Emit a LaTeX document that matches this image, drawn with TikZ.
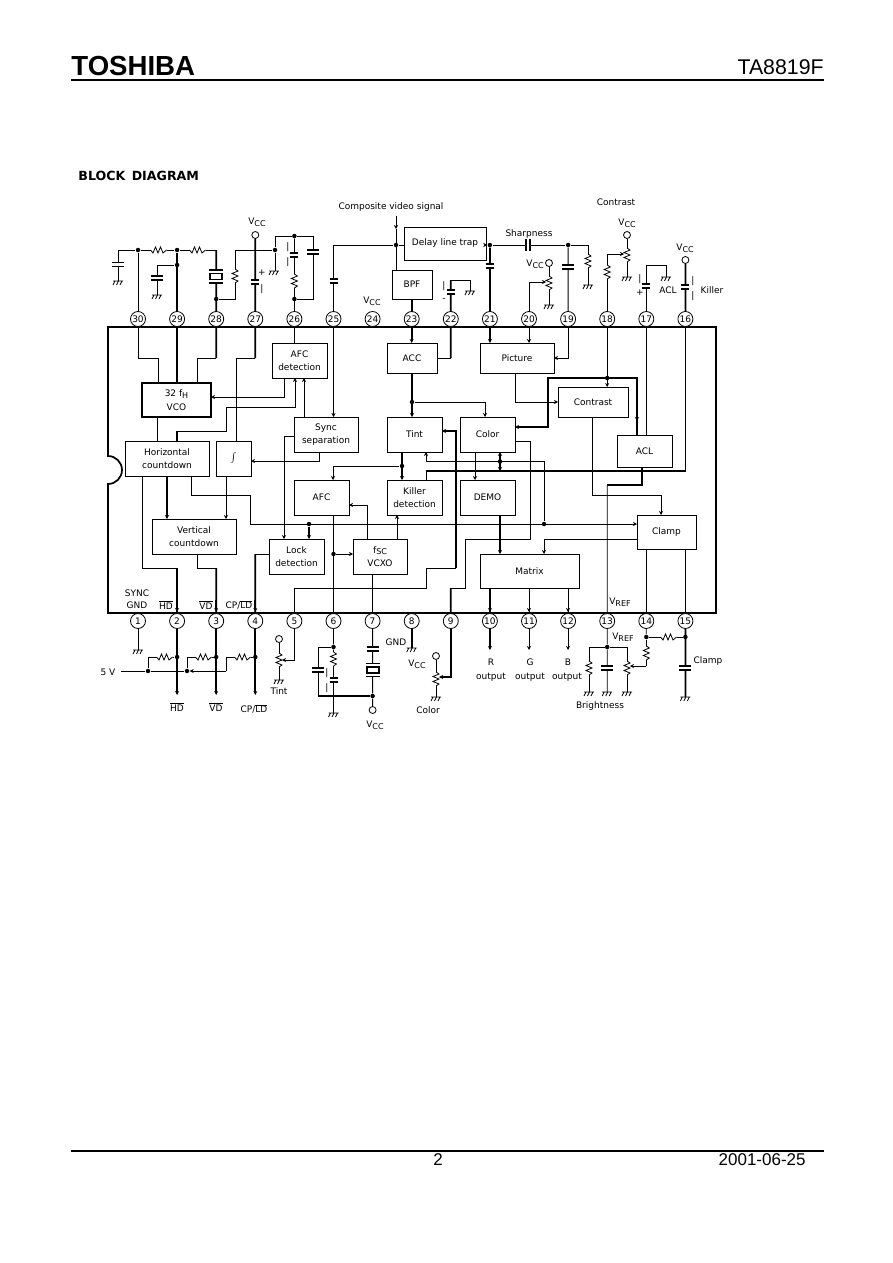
\documentclass[tikz,border=0pt]{standalone}
\usepackage{fontspec}
\setmainfont{DejaVu Sans}
\newfontfamily\headfont{Liberation Sans}
\usetikzlibrary{arrows.meta,positioning,calc}
\newcommand{\lowtxt}[1]{\raisebox{-.35ex}{\footnotesize #1}}
\newcommand{\ovtxt}[1]{\ensuremath{\overline{\mbox{#1}}}}
\tikzset{
  block/.style 2 args={draw,line width=.9pt,align=center,inner sep=0pt,outer sep=0pt,minimum width=#1,minimum height=#2,execute at begin node={\setlength{\baselineskip}{13.5pt}}},
  pinnode/.style={draw,circle,fill=white,inner sep=0pt,minimum size=15pt,outer sep=0pt},
  jdot/.style={circle,fill=black,inner sep=0pt,minimum size=4.5pt},
  term/.style={draw,circle,fill=white,inner sep=0pt,minimum size=7pt},
  bus/.style={line width=1.8pt},
  gnd/.pic={\draw (-5,0)--(5,0) (-5,4)--(-3,0) (-1.5,4)--(.5,0) (2,4)--(4,0);},
  capv/.pic={\fill[white] (-6,-2) rectangle (6,2); \draw[line width=1.7pt] (-6,-2)--(6,-2) (-6,2)--(6,2);},
  caph/.pic={\fill[white] (-2,-6) rectangle (2,6); \draw[line width=2pt] (-2,-6)--(-2,6) (2,-6)--(2,6);},
  ecap/.pic={\fill[white] (-4,-3) rectangle (4,3); \draw[line width=2pt] (-4,-2)--(4,-2) (-4,2)--(4,2);},
  xtal/.pic={\fill[white] (-7,-7) rectangle (7,7); \draw[line width=1.8pt] (-7,-6.5)--(7,-6.5) (-7,6.5)--(7,6.5) (-6,-3) rectangle (6,3);},
  resv/.pic={\fill[white] (-3,-7) rectangle (3,7); \draw (0,-7)--(3,-5)--(-3,-2.5)--(3,0)--(-3,2.5)--(3,5)--(0,7);},
  resh/.pic={\fill[white] (-8,-3) rectangle (8,3); \draw (-8,0)--(-5.5,3)--(-3,-3)--(-.5,3)--(2,-3)--(4.5,3)--(8,0);},
}
\begin{document}
\begin{tikzpicture}[x=1pt,y=-1pt,>={Stealth[length=4pt,width=4pt]},line width=.8pt,font=\small]
\useasboundingbox (0,0) rectangle (892,1263);
% Page header and footer.
\node[anchor=west,inner sep=0pt,font=\headfont\bfseries\fontsize{27.6}{28}\selectfont] (maker) at (71,66) {TOSHIBA};
\node[anchor=east,inner sep=0pt,font=\headfont\fontsize{21.3}{22}\selectfont] (partno) at (824,67) {TA8819F};
\draw[line width=1.3pt] (71,80) -- (824,80);
\node[anchor=west,inner sep=0pt,font=\bfseries\fontsize{12.6}{13}\selectfont] (heading) at (78,176) {BLOCK\, DIAGRAM};
\draw[line width=1.3pt] (71,1151) -- (824,1151);
\node[inner sep=0pt,font=\headfont\fontsize{17}{18}\selectfont] (pageno) at (438,1160) {2};
\node[anchor=east,inner sep=0pt,font=\headfont\fontsize{17}{18}\selectfont] (pagedate) at (806,1160) {2001-06-25};
% Package outline with the notch.
\draw[line width=1.7pt] (108,327) -- (716,327) -- (716,613) -- (108,613) -- (108,484) arc[start angle=90,end angle=-90,radius=14] -- cycle;
\foreach \n [count=\i from 0] in {30,29,...,16}
  \node[pinnode] (pin\n) at ({138+39.1*\i},319) {\n};
\foreach \n in {1,...,15}
  \node[pinnode] (pin\n) at ({138+39.1*(\n-1)},621) {\n};
% Blocks.
\node[block={55}{35}] (afcd) at (299.5,360.5) {AFC\\detection};
\node[block={69}{34},line width=1.4pt] (vco) at (176.5,400) {32 f\lowtxt{H}\\VCO};
\node[block={84}{35}] (hcd) at (167,458.5) {Horizontal\\countdown};
\node[block={35}{35},line width=1pt] (ints) at (233.5,458.5) {$\int$};
\node[block={64}{35}] (sync) at (326,434.5) {Sync\\separation};
\node[block={50}{30}] (acc) at (412,358) {ACC};
\node[block={74}{30}] (pict) at (517,358) {Picture};
\node[block={70}{30}] (contrast) at (593,402) {Contrast};
\node[block={55}{35}] (tint) at (414.5,434.5) {Tint};
\node[block={55}{35}] (color) at (487.5,434.5) {Color};
\node[block={55}{32}] (acl) at (644.5,451) {ACL};
\node[block={55}{35}] (afc) at (321.5,497.5) {AFC};
\node[block={55}{35}] (killer) at (414.5,497.5) {Killer\\detection};
\node[block={55}{35}] (demo) at (487.5,497.5) {DEMO};
\node[block={84}{35}] (vcd) at (194,536.5) {Vertical\\countdown};
\node[block={55}{35}] (lock) at (296.5,556.5) {Lock\\detection};
\node[block={54}{35}] (vcxo) at (380,556.5) {f\lowtxt{SC}\\VCXO};
\node[block={99}{34}] (matrix) at (529.5,571) {Matrix};
\node[block={59}{34}] (clamp) at (666.5,532) {Clamp};
\node[block={82}{33}] (delay) at (445,243.5) {Delay line trap};
\node[block={40}{29}] (bpf) at (412,284.5) {BPF};
% Junctions.
\node[jdot] (d30) at (138,250) {};
\node[jdot] (d29) at (177.1,250) {};
\node[jdot] (d29b) at (177.1,265) {};
\node[jdot] (d28) at (216.2,299) {};
\node[jdot] (d27) at (275,250) {};
\node[jdot] (d26a) at (294.4,236) {};
\node[jdot] (d26b) at (294.4,299) {};
\node[jdot] (d25) at (396,245) {};
\node[jdot] (d21) at (489.9,245) {};
\node[jdot] (d19) at (568.1,245) {};
\node[jdot] (d18) at (607.2,378) {};
\node[jdot] (dacc) at (412,402) {};
\node[jdot] (dtint) at (402,466) {};
\node[jdot] (dcolor) at (500,461.5) {};
\node[jdot] (dlock) at (309,524) {};
\node[jdot] (dtail) at (544,524) {};
\node[jdot] (dvcxo) at (333.5,554) {};
\node[jdot] (d5a) at (148,671) {};
\node[jdot] (d5b) at (187,671) {};
\node[jdot] (d2) at (177.1,657) {};
\node[jdot] (d3) at (216.2,657) {};
\node[jdot] (d4) at (255.3,657) {};
\node[jdot] (d6) at (333.5,647) {};
\node[jdot] (d7) at (372.6,696) {};
\node[jdot] (d13) at (607.2,647) {};
\node[jdot] (d14) at (646.3,637) {};
\node[jdot] (d15) at (685.4,637) {};
% Supply terminals.
\node[term] (vcc27) at (255.3,235) {};
\node[term] (vcc20) at (549,263) {};
\node[term] (vcc18) at (627,235) {};
\node[term] (vcc16) at (685.4,260) {};
\node[term] (vcc5) at (279,639) {};
\node[term] (vcc7) at (372.6,710) {};
\node[term] (vcc9) at (436,656) {};
% Wiring inside the package.
\draw (pin30) |- (158,358) -- (vco.north -| 158,0);
\draw[bus] (pin29) -- (vco.north -| pin29);
\draw[bus] (pin28) -- (216.2,358);
\draw (216.2,358) -| (vco.north -| 197,0);
\draw[bus] (pin27) -- (255.3,358);
\draw (255.3,358) -| (ints.north -| 236,0);
\draw (pin26) -- (afcd.north -| pin26);
\draw[->] (pin25) -- (sync.north -| pin25);
\draw[bus,->] (pin23) -- (acc.north -| pin23);
\draw[bus] (pin22) -- (450.8,358);
\draw (450.8,358) -- (acc.east);
\draw[bus,->] (pin21) -- (pict.north -| pin21);
\draw[->] (pin20) -- (pict.north -| pin20);
\draw[->] (pin19) |- (pict.east);
\draw[->] (pin18) -- (contrast.north -| pin18);
\draw (pin17) -- (acl.north -| pin17);
\draw[bus] (pin16) |- (426,471);
\draw[->] (afcd.south -| 284,0) |- (vco.east |- 0,397);
\draw[<-] (afcd.south -| 295,0) |- (226,407) |- (177,431);
\draw[bus] (177,431) -- (hcd.north -| 177,0);
\draw[->] (sync.north -| 304,0) -- (afcd.south -| 304,0);
\draw (vco.south -| 157,0) -- (hcd.north -| 157,0);
\draw[->] (sync.west |- 0,436) -| (lock.north -| 284,0);
\draw[->] (sync.south -| 319,0) |- (ints.east |- 0,461);
\draw[bus,->] (hcd.south -| 167,0) -- (vcd.north -| 167,0);
\draw (hcd.south -| 142,0) |- (177.1,568);
\draw[bus] (177.1,568) -- (pin2);
\draw[->] (hcd.south -| 191,0) |- (250,495) |- (clamp.west |- 0,524);
\draw[->] (ints.south -| 226,0) -- (vcd.north -| 226,0);
\draw (vcd.south -| 197,0) |- (216.2,568);
\draw[bus] (216.2,568) -- (pin3);
\draw (lock.west |- 0,554) -- (255.3,554);
\draw[bus] (255.3,554) -- (pin4);
\draw[bus,->] (dlock) -- (lock.north -| dlock);
\draw (afc.south -| pin6) -- (pin6);
\draw[->] (dvcxo) -- (vcxo.west |- dvcxo);
\draw[<-] (afc.east |- 0,505) -| (vcxo.north -| 367,0);
\draw[->] (vcxo.north -| 397,0) -- (killer.south -| 397,0);
\draw (vcxo.south -| pin7) -- (pin7);
\draw[bus,->] (acc.south) -- (tint.north -| acc.south);
\draw[->] (dacc) -| (color.north -| 485,0);
\draw[bus,->] (tint.south -| 402,0) -- (killer.north -| 402,0);
\draw[->] (dtint) -| (afc.north -| 333,0);
\draw[bus,<-] (tint.east |- 0,431) -| (456,568);
\draw (456,568) -| (426,588) -| (pin5);
\draw[<-] (tint.south -| 426,0) |- (544,461.5) -- (dtail);
\draw (426,471) -- (killer.north -| 426,0);
\draw[bus,<->] (color.south -| 500,0) -- (500,471);
\draw[->] (color.south -| 475,0) -- (demo.north -| 475,0);
\draw (color.east |- 0,441) -| (530,539) -| (465.5,588) -- (450.8,588);
\draw[bus] (450.8,588) -- (pin9);
\draw[bus,->] (demo.south -| 500,0) -- (matrix.north -| 500,0);
\draw[bus,<-] (color.east |- 0,427) -- (548,427) |- (637,378) -- (acl.north -| 637,0);
\draw[bus,->] (637,400) -- (637,421);
\draw[->] (pict.south -| 515,0) |- (contrast.west);
\draw[->] (contrast.south -| 592,0) |- (661,495) -- (clamp.north -| 661,0);
\draw[bus] (acl.south -| 642,0) |- (607.2,485);
\draw (607.2,485) -- (pin13);
\draw[->] (clamp.west |- 0,539) -| (matrix.north -| 544,0);
\draw (clamp.south -| pin14) -- (pin14);
\draw[bus] (clamp.south -| pin15) -- (pin15);
\draw[bus] (matrix.south -| pin10) -- (pin10);
\draw (matrix.south -| pin11) -- (pin11);
\draw (matrix.south -| pin12) -- (pin12);
\foreach \n in {2,3,4,10}
  \draw[bus,->] (pin\n |- 0,600) -- (pin\n |- 0,612);
\foreach \n in {11,12}
  \draw[->] (pin\n |- 0,600) -- (pin\n |- 0,612);
% Parts above the package.
\draw (118,281) -- (118,250) -- (d30) -- (d29) -- (216.2,250);
\draw (pin30) -- (d30);
\draw[bus] (pin29) -- (d29);
\draw (d29b) -| (157,295);
\draw[bus] (pin28) -- (216.2,250);
\draw (d28) -| (235,250) -- (d27);
\draw (d27) |- (d26a) -| (313,299) -- (d26b);
\draw (d27) -- (275,271);
\draw (pin26) -- (d26a);
\draw[bus] (pin27) -- (vcc27);
\draw (pin25) |- (d25);
\draw (d25) -- (delay.west |- d25);
\draw[->] (396,216) -- (396,229);
\draw (396,229) -- (bpf.north -| 396,0);
\draw[bus] (pin23) -- (bpf.south -| pin23);
\draw[bus] (pin22) -- (450.8,280);
\draw (450.8,280) -| (470,291);
\draw[bus] (pin21) -- (d21);
\draw[->] (delay.east |- d21) -- (d21);
\draw (d21) -- (d19) -| (588,285);
\draw (pin19) -- (d19);
\draw[->] (pin20) |- (546,282);
\draw (vcc20) -- (549,305);
\draw[->] (pin18) |- (624,254);
\draw (vcc18) -- (627,277);
\draw (pin17) |- (666,265) -- (666,277);
\draw[bus] (pin16) -- (vcc16);
% Parts below the package.
\draw (pin1) -- (pin1 |- 0,650);
\foreach \n in {2,3,4}
  \draw[bus,->] (pin\n) -- (pin\n |- 0,695);
\draw[<-] (121,671) -- (d5a) -- (d5b) -- (226,671);
\draw (d5a) |- (d2);
\draw (d5b) |- (d3);
\draw (226,671) |- (d4);
\draw[->] (pin5) |- (282,660);
\draw (vcc5) -- (279,680);
\draw (pin6) -- (d6) -- (333.5,713);
\draw (d6) -| (318,696);
\draw[line width=1.2pt] (318,696) -- (d7);
\draw (pin7) -- (d7) -- (vcc7);
\draw[bus] (pin8) -- (pin8 |- 0,648);
\draw[bus,->] (pin9) |- (439,677);
\draw (vcc9) -- (436,697);
\draw[bus,->] (pin10) -- (pin10 |- 0,650);
\draw[->] (pin11) -- (pin11 |- 0,650);
\draw[->] (pin12) -- (pin12 |- 0,650);
\draw (pin13) -- (d13) -- (607.2,692);
\draw (d13) -| (589,692);
\draw (d13) -| (627,692);
\draw (pin14) -- (d14);
\draw[->] (646.3,666) -- (630,666);
\draw (d14) -- (646.3,666);
\draw (d14) -- (d15);
\draw[bus] (pin15) -- (685.4,697);
% Components sit on top of the wires.
\foreach \x/\y in {118/281,157/295,274/271,470/291,549/305,588/285,627/277,666/277,138/650,279/680,333.5/713,411.7/648,436/697,589/692,607.2/692,627/692,685.4/697}
  \pic at (\x,\y) {gnd};
\foreach \x/\y in {118/264.5,157/278,313/252,568.1/267,318/670,372.6/649,607.2/668,685.4/668}
  \pic at (\x,\y) {capv};
\foreach \x/\y in {255.3/282,294.4/255,333.5/281,450.8/292,489.9/266,646.3/286,685.4/287,333.5/680}
  \pic at (\x,\y) {ecap};
\pic at (527.5,245) {caph};
\foreach \x/\y in {216.2/276.5,372.6/670}
  \pic at (\x,\y) {xtal};
\foreach \x/\y in {235/276,294.4/281,549/283,588/261,607.2/272,627/255,279/660,333.5/659,436/679,589/668,627/668,646.3/653}
  \pic at (\x,\y) {resv};
\foreach \x/\y in {158.5/250,197.5/250,164.5/657,203.5/657,242.5/657,668.5/637}
  \pic at (\x,\y) {resh};
% Polarity marks.
\foreach \x/\y/\s [count=\k] in {262/273/+,262/289/|,288/247/|,288/262/|,444/286/|,444/300/-,640/279/|,640/293/+,693/281/|,693/296/|,327/673/|,327/688/|}
  \node[inner sep=0pt] (pol\k) at (\x,\y) {\s};
% Labels.
\node (labcomp) at (391,207) {Composite video signal};
\node (labsharp) at (529,234) {Sharpness};
\node (labcontr) at (616,202) {Contrast};
\node (labv27) at (257,222) {V\lowtxt{CC}};
\node (labv24) at (372,301) {V\lowtxt{CC}};
\node (labv20) at (535,264) {V\lowtxt{CC}};
\node (labv18) at (627,223) {V\lowtxt{CC}};
\node (labv16) at (685,248) {V\lowtxt{CC}};
\node (labacl) at (668,290) {ACL};
\node (labkill) at (712,290) {Killer};
\node[align=center] (labsync) at (137,599) {SYNC\\[1.5pt]GND};
\node (labhd) at (166,605) {\ovtxt{HD}};
\node (labvd) at (206,605) {\ovtxt{VD}};
\node (labcp) at (239,605) {CP/\ovtxt{LD}};
\node (labvref) at (620,602) {V\lowtxt{REF}};
\node (lab5v) at (108,672) {5 V};
\node (labhdo) at (177,707) {\ovtxt{HD}};
\node (labvdo) at (216,707) {\ovtxt{VD}};
\node (labcpo) at (254,709) {CP/\ovtxt{LD}};
\node (labtint) at (279,691) {Tint};
\node (labv7) at (375,725) {V\lowtxt{CC}};
\node (labgnd) at (396,642) {GND};
\node (labv9) at (417,664) {V\lowtxt{CC}};
\node (labcolor) at (428,710) {Color};
\node (labr) at (491,662) {R};
\node (labg) at (530,662) {G};
\node (labb) at (568,662) {B};
\node (labor) at (491,677) {output};
\node (labog) at (530,677) {output};
\node (labob) at (567,677) {output};
\node (labvr2) at (623,637) {V\lowtxt{REF}};
\node (labclamp) at (708,661) {Clamp};
\node (labbright) at (600,706) {Brightness};
\end{tikzpicture}
\end{document}
